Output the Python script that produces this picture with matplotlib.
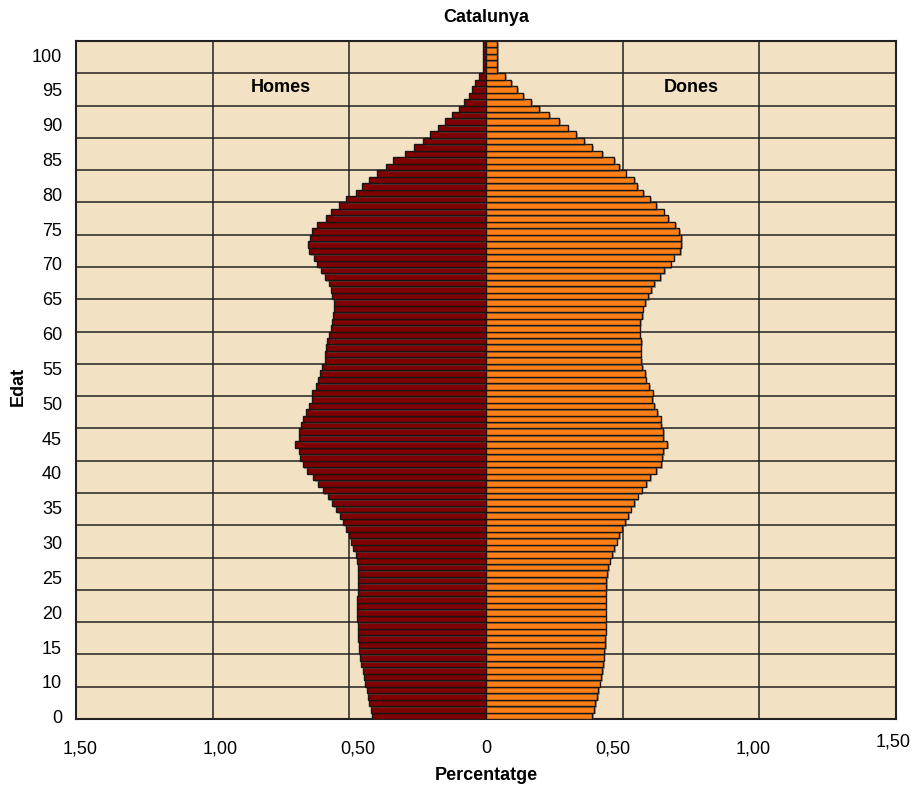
import matplotlib.pyplot as plt
import matplotlib.patheffects as pe
import numpy as np

plt.rcParams['font.family'] = ['Liberation Sans', 'DejaVu Sans']

# edat 0..104 (les 5 darreres barres = 100 i més)
ages = list(range(105))

homes = [0.416, 0.421, 0.427, 0.432, 0.437, 0.441, 0.446, 0.451, 0.456, 0.460,
         0.463, 0.466, 0.467, 0.468, 0.470, 0.471, 0.471, 0.472, 0.471, 0.470,
         0.468, 0.467, 0.467, 0.468, 0.472, 0.477, 0.485, 0.494, 0.502, 0.513,
         0.523, 0.535, 0.549, 0.562, 0.579, 0.598, 0.615, 0.632, 0.654, 0.671,
         0.680, 0.685, 0.699, 0.684, 0.683, 0.676, 0.668, 0.660, 0.646, 0.638,
         0.635, 0.623, 0.615, 0.609, 0.601, 0.590, 0.588, 0.585, 0.582, 0.573,
         0.567, 0.562, 0.559, 0.555, 0.555, 0.562, 0.566, 0.573, 0.590, 0.605,
         0.618, 0.629, 0.648, 0.650, 0.645, 0.638, 0.618, 0.587, 0.567, 0.538,
         0.512, 0.477, 0.453, 0.428, 0.398, 0.366, 0.340, 0.295, 0.263, 0.231,
         0.205, 0.177, 0.151, 0.126, 0.099, 0.080, 0.062, 0.050, 0.039, 0.026,
         0.012, 0.012, 0.012, 0.012, 0.012]

dones = [0.389, 0.395, 0.400, 0.406, 0.411, 0.416, 0.421, 0.424, 0.428, 0.430,
         0.433, 0.435, 0.437, 0.438, 0.438, 0.438, 0.438, 0.438, 0.438, 0.438,
         0.439, 0.440, 0.443, 0.446, 0.452, 0.461, 0.470, 0.478, 0.488, 0.498,
         0.510, 0.520, 0.529, 0.543, 0.555, 0.570, 0.585, 0.600, 0.622, 0.640,
         0.644, 0.648, 0.663, 0.649, 0.649, 0.640, 0.639, 0.626, 0.615, 0.609,
         0.610, 0.598, 0.584, 0.583, 0.572, 0.568, 0.566, 0.566, 0.567, 0.562,
         0.562, 0.565, 0.572, 0.573, 0.583, 0.594, 0.605, 0.616, 0.638, 0.652,
         0.676, 0.687, 0.710, 0.715, 0.715, 0.706, 0.691, 0.666, 0.650, 0.623,
         0.601, 0.576, 0.554, 0.541, 0.511, 0.488, 0.468, 0.426, 0.389, 0.359,
         0.329, 0.299, 0.267, 0.232, 0.194, 0.165, 0.137, 0.113, 0.093, 0.070,
         0.041, 0.041, 0.041, 0.041, 0.041]

age_labels = ['0'] + [str(a) for a in range(10, 101, 5)]
x_labels = ['1,50', '1,00', '0,50', '0', '0,50', '1,00', '1,50']

fig = plt.figure(figsize=(9.14, 7.87), dpi=100)
ax = fig.add_axes([76 / 914, 68 / 787, 820 / 914, 678 / 787])
ax.set_facecolor('#f3e1c4')

shadow = [pe.SimplePatchShadow(offset=(1.2, -1.2), shadow_rgbFace='0.35', alpha=0.5), pe.Normal()]
bars_h = ax.barh(ages, [-v for v in homes], height=1.0, color='#800000',
                 edgecolor='#161616', linewidth=1.0, zorder=3)
bars_d = ax.barh(ages, dones, height=1.0, color='#ff7f17',
                 edgecolor='#161616', linewidth=1.0, zorder=3)
for b in list(bars_h) + list(bars_d):
    b.set_path_effects(shadow)

ax.set_xlim(-1.5, 1.5)
ax.set_ylim(-0.5, 104.5)

# graella
for y in np.arange(4.5, 104, 5):
    ax.axhline(y, color='#222222', lw=1.1, zorder=1)
for x in [-1.0, -0.5, 0.5, 1.0]:
    ax.axvline(x, color='#222222', lw=1.1, zorder=1)

for s in ax.spines.values():
    s.set_linewidth(1.5)
    s.set_color('#222222')

# etiquetes d'edat (repartides com a l'original)
ax.set_yticks(np.linspace(-0.14, 102.33, len(age_labels)))
ax.set_yticklabels(age_labels, fontsize=13)
ax.tick_params(axis='y', length=0, pad=10)
ax.set_xticks([])

x_pos = [-1.486, -0.973, -0.468, 0, 0.465, 0.977, 1.49]
trans = ax.get_xaxis_transform()
for i, (xp, lab) in enumerate(zip(x_pos, x_labels)):
    yy = -0.034 if i == len(x_labels) - 1 else -0.044
    ax.text(xp, yy, lab, transform=trans, ha='center', va='center', fontsize=13)

ax.text(0.5, 1.034, 'Catalunya', transform=ax.transAxes, ha='center', va='center',
        fontsize=13, fontweight='bold')
ax.text(0.5, -0.083, 'Percentatge', transform=ax.transAxes, ha='center', va='center',
        fontsize=13, fontweight='bold')
ax.text(-0.0707, 0.491, 'Edat', transform=ax.transAxes, ha='center', va='center',
        rotation=90, fontsize=13, fontweight='bold')

ax.text(-0.751, 97.3, 'Homes', ha='center', va='center', fontsize=13, fontweight='bold', zorder=4)
ax.text(0.751, 97.3, 'Dones', ha='center', va='center', fontsize=13, fontweight='bold', zorder=4)

fig.savefig('out.png', dpi=100)
